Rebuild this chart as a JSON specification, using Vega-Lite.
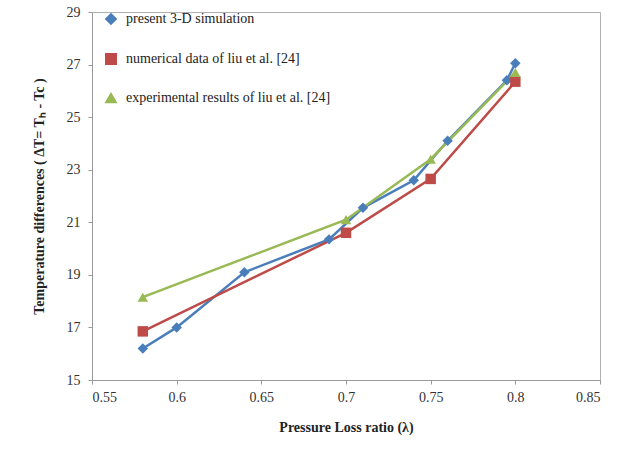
{
  "$schema": "https://vega.github.io/schema/vega-lite/v6.json",
  "width": 508,
  "height": 368,
  "autosize": {"type": "none"},
  "padding": {"left": 92, "top": 12, "right": 17, "bottom": 72},
  "background": "white",
  "config": {
    "view": {"stroke": "#b0b0b0", "strokeWidth": 1},
    "font": "Liberation Serif"
  },
  "data": {
    "values": [
      {"series": "present 3-D simulation", "x": 0.58, "y": 16.2},
      {"series": "present 3-D simulation", "x": 0.60, "y": 17.0},
      {"series": "present 3-D simulation", "x": 0.64, "y": 19.1},
      {"series": "present 3-D simulation", "x": 0.69, "y": 20.35},
      {"series": "present 3-D simulation", "x": 0.71, "y": 21.55},
      {"series": "present 3-D simulation", "x": 0.74, "y": 22.6},
      {"series": "present 3-D simulation", "x": 0.76, "y": 24.1},
      {"series": "present 3-D simulation", "x": 0.795, "y": 26.4},
      {"series": "present 3-D simulation", "x": 0.80, "y": 27.05},
      {"series": "numerical data of liu et al.   [24]", "x": 0.58, "y": 16.85},
      {"series": "numerical data of liu et al.   [24]", "x": 0.70, "y": 20.6},
      {"series": "numerical data of liu et al.   [24]", "x": 0.75, "y": 22.65},
      {"series": "numerical data of liu et al.   [24]", "x": 0.80, "y": 26.35},
      {"series": "experimental results of liu et al.   [24]", "x": 0.58, "y": 18.15},
      {"series": "experimental results of liu et al.   [24]", "x": 0.70, "y": 21.1},
      {"series": "experimental results of liu et al.   [24]", "x": 0.75, "y": 23.4},
      {"series": "experimental results of liu et al.   [24]", "x": 0.80, "y": 26.7}
    ]
  },
  "encoding": {
    "x": {
      "field": "x", "type": "quantitative",
      "scale": {"domain": [0.55, 0.85], "nice": false, "zero": false},
      "axis": {
        "values": [0.55, 0.6, 0.65, 0.7, 0.75, 0.8, 0.85], "format": "~g",
        "grid": false, "domainColor": "#999", "tickColor": "#999", "tickSize": 4,
        "labelFont": "Liberation Serif", "labelFontSize": 14, "labelColor": "#333", "labelPadding": 6,
        "title": "Pressure Loss ratio (λ)", "titleFont": "Liberation Serif", "titleFontSize": 14,
        "titleFontWeight": "bold", "titleColor": "#222", "titlePadding": 16
      }
    },
    "y": {
      "field": "y", "type": "quantitative",
      "scale": {"domain": [15, 29], "nice": false, "zero": false},
      "axis": {
        "values": [15, 17, 19, 21, 23, 25, 27, 29],
        "grid": false, "domainColor": "#999", "tickColor": "#999", "tickSize": 4,
        "labelFont": "Liberation Serif", "labelFontSize": 14, "labelColor": "#333", "labelPadding": 8,
        "title": "Temperature differences ( ΔT= Tₕ - Tc )", "titleFont": "Liberation Serif", "titleFontSize": 14,
        "titleFontWeight": "bold", "titleColor": "#222", "titlePadding": 20
      }
    },
    "color": {
      "field": "series", "type": "nominal",
      "scale": {
        "domain": ["present 3-D simulation", "numerical data of liu et al.   [24]", "experimental results of liu et al.   [24]"],
        "range": ["#4A7EBB", "#BE4B48", "#98B954"]
      },
      "legend": {
        "orient": "none", "legendX": 12, "legendY": 0, "title": null,
        "rowPadding": 22, "symbolSize": 110, "labelOffset": 8, "labelLimit": 400,
        "labelFont": "Liberation Serif", "labelFontSize": 14, "labelColor": "#222"
      }
    }
  },
  "layer": [
    {
      "mark": {"type": "line", "strokeWidth": 2.5},
      "encoding": {"order": {"field": "x", "type": "quantitative"}}
    },
    {
      "mark": {"type": "point", "filled": true, "opacity": 1, "size": 110},
      "encoding": {
        "shape": {
          "field": "series", "type": "nominal",
          "scale": {
            "domain": ["present 3-D simulation", "numerical data of liu et al.   [24]", "experimental results of liu et al.   [24]"],
            "range": ["diamond", "square", "triangle-up"]
          },
          "legend": {
            "orient": "none", "legendX": 12, "legendY": 0, "title": null,
            "rowPadding": 22, "symbolSize": 110, "labelOffset": 8, "labelLimit": 400,
            "labelFont": "Liberation Serif", "labelFontSize": 14, "labelColor": "#222"
          }
        }
      }
    }
  ]
}
